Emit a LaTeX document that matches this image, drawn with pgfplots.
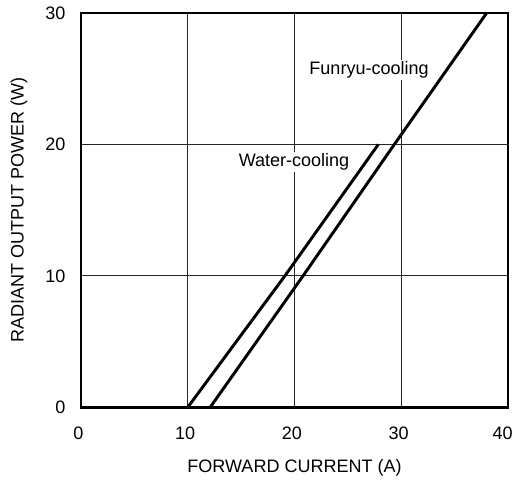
\documentclass[border=0pt]{standalone}
\usepackage{pgfplots}
\pgfplotsset{compat=1.18}
\usepackage{fontspec}
\setmainfont{Liberation Sans}
\begin{document}
\begin{tikzpicture}
% fixed frame round the axis, as in the reference
\useasboundingbox (-60.7pt,-56pt) rectangle (325.2pt,305.2pt);
\begin{axis}[
  scale only axis,
  width=320pt, height=295.5pt,
  xmin=0, xmax=40, ymin=0, ymax=30,
  xtick={0,10,20,30,40}, ytick={0,10,20,30},
  grid=major,
  major grid style={black!85, line width=0.7pt},
  major tick length=0pt,
  axis line style={line width=1.9pt},
  tick label style={font=\fontsize{13.5}{16}\selectfont},
  /pgf/number format/assume math mode=true,
  xticklabel style={yshift=-11.4pt, xshift=-2pt},
  xticklabel={\ifnum\ticknum=4 \hspace*{-4pt}\fi\pgfmathprintnumber{\tick}},
  yticklabel style={xshift=-8.2pt},
  every axis x label/.style={at={(rel axis cs:0.5,0)}, anchor=center, yshift=-45.5pt,
    font=\fontsize{13.5}{16}\selectfont},
  every axis y label/.style={at={(rel axis cs:0,0.5)}, rotate=90, anchor=center, yshift=46.5pt,
    font=\fontsize{13.5}{16}\selectfont},
  xlabel={FORWARD CURRENT (A)},
  ylabel={RADIANT OUTPUT POWER (W)},
  clip=false,
]
\addplot[black, line width=2.2pt] coordinates {(10,0) (19.1,10) (27.85,20)};
\addplot[black, line width=2.2pt] coordinates {(12.1,0) (20.8,10) (29.35,20) (38.0,30)};
\node[font=\fontsize{13.5}{16}\selectfont, fill=white, inner sep=1pt] at (axis cs:19.95,18.66) {Water-cooling};
\node[font=\fontsize{13.5}{16}\selectfont, fill=white, inner sep=1pt] at (axis cs:26.98,25.65) {Funryu-cooling};
\end{axis}
\end{tikzpicture}
\end{document}
